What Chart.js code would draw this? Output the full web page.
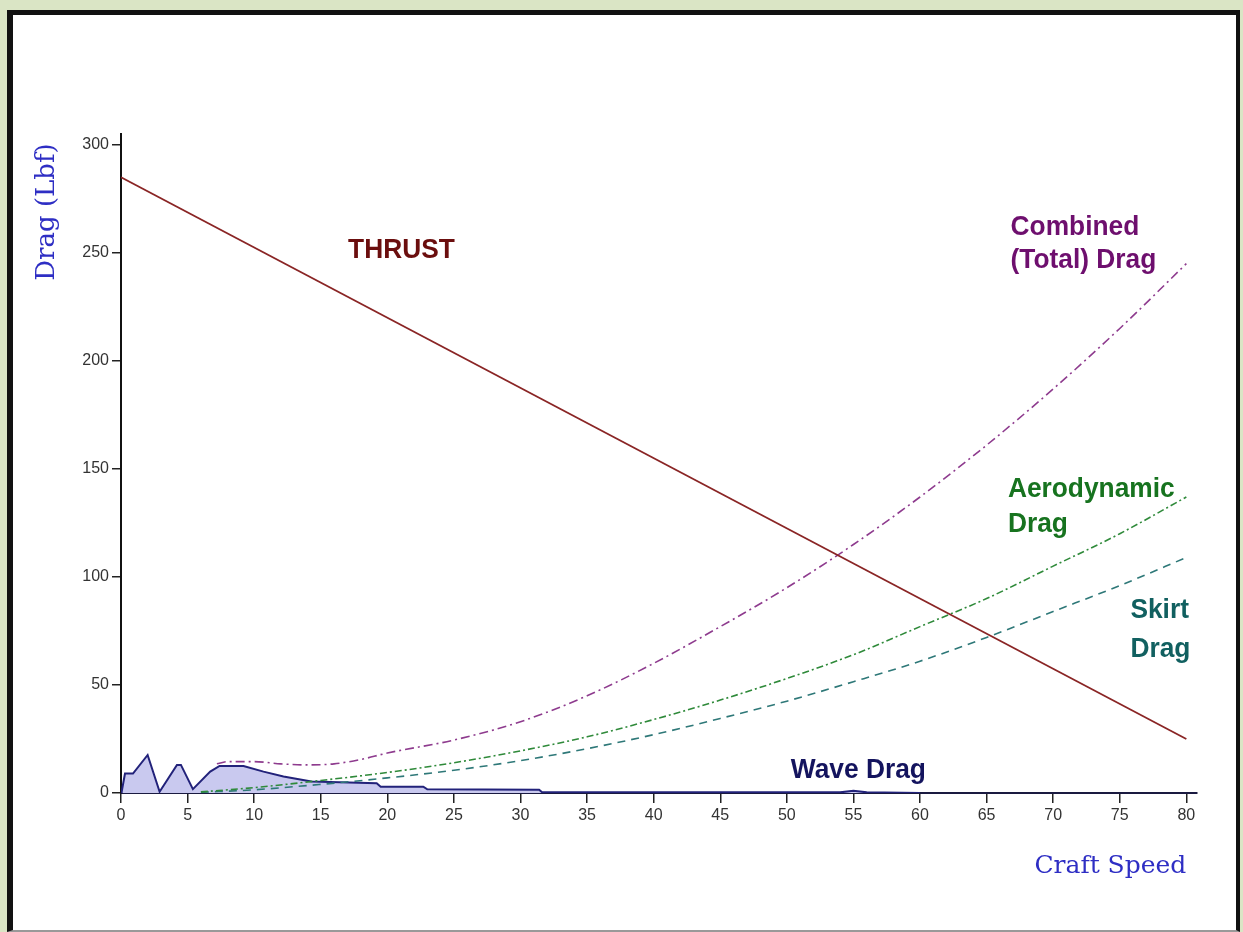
<!DOCTYPE html>
<html>
<head>
<meta charset="utf-8">
<script src="https://cdn.jsdelivr.net/npm/chart.js@4"></script>
<style>
  html, body { margin: 0; padding: 0; background: #dae5c5; overflow: hidden; }
  #frame {
    position: absolute; left: 7px; top: 10px; width: 1223px; height: 915px;
    background: #fff; border-left: 6px solid #111; border-top: 5px solid #111;
    border-right: 4px solid #111; border-bottom: 2px solid #999;
  }
  #chart { position: absolute; left: 0; top: 0; }
</style>
</head>
<body>
<div id="frame"></div>
<canvas id="chart" width="1243" height="932"></canvas>
<script>
// values (speed in knots-ish units, drag in lbf)
var thrustSpeed = [0, 80];
var thrust = [285, 25];

var combinedSpeed = [7.2, 8, 10, 12, 14, 16, 18, 20, 25, 30, 35, 40, 45, 50, 55, 60, 65, 70, 75, 80];
var combinedDrag = [13.5, 14.5, 14.5, 13.5, 13, 13.5, 15.5, 18.5, 24.5, 33, 45, 60, 77, 95, 115, 137, 161, 187, 215, 245];

var aeroSpeed = [6, 10, 15, 20, 25, 30, 35, 40, 45, 50, 55, 60, 65, 70, 75, 80];
var aeroDrag = [0.5, 2.5, 5.8, 9.5, 14, 19.5, 26, 34, 43, 53, 64, 77, 90, 105, 120, 137];

var skirtSpeed = [6, 10, 15, 20, 25, 30, 35, 40, 45, 50, 55, 60, 65, 70, 75, 80];
var skirtDrag = [0.3, 1.5, 4, 7, 10.5, 15, 20.5, 27, 34.5, 42.5, 51.5, 61, 72, 84, 96, 109];

var waveSpeed = [0, 0.05, 0.3, 0.9, 2.0, 2.9, 4.2, 4.5, 5.4, 6.7, 7.4, 9.2, 10.7, 12.2, 14.3, 19.2, 19.5, 22.7, 23.0, 31.4, 31.6, 54, 55, 56, 60];
var waveDrag = [0, 0.6, 9, 9, 17.6, 0.6, 13, 13, 1.8, 9.9, 12.5, 12.5, 9.9, 7.6, 5.3, 4.5, 2.9, 2.9, 1.7, 1.5, 0.5, 0.3, 1, 0.3, 0];

var xTicks = [0, 5, 10, 15, 20, 25, 30, 35, 40, 45, 50, 55, 60, 65, 70, 75, 80];
var yTicks = [0, 50, 100, 150, 200, 250, 300];

function pts(xs, ys) {
    return xs.map(function (x, i) { return { x: x, y: ys[i] }; });
}

// curve labels: text, speed, drag (baseline), colour
var notes = [
    ['THRUST', 17.05, 247.7, '#6b0e0e'],
    ['Combined', 66.8, 258.3, '#6e0f6e'],
    ['(Total) Drag', 66.8, 243, '#6e0f6e'],
    ['Aerodynamic', 66.6, 137, '#17731f'],
    ['Drag', 66.6, 120.8, '#17731f'],
    ['Skirt', 75.8, 81, '#116060'],
    ['Drag', 75.8, 63, '#116060'],
    ['Wave Drag', 50.3, 6.9, '#14145e']
];

var textPlugin = {
    id: 'texts',
    afterDraw: function (chart) {
        var ctx = chart.ctx;
        var xs = chart.scales.x, ys = chart.scales.y;
        ctx.save();
        ctx.font = 'bold 28px "Liberation Sans", Arial, sans-serif';
        ctx.textBaseline = 'alphabetic';
        ctx.textAlign = 'left';
        notes.forEach(function (n) {
            var px = xs.getPixelForValue(n[1]);
            var py = ys.getPixelForValue(n[2]);
            ctx.save();
            ctx.translate(px, py);
            ctx.scale(0.94, 1);
            ctx.fillStyle = n[3];
            ctx.fillText(n[0], 0, 0);
            ctx.restore();
        });
        // axis titles
        ctx.fillStyle = '#2e2ec4';
        ctx.font = '25px "DejaVu Serif", serif';
        ctx.textAlign = 'right';
        ctx.fillText('Craft Speed', xs.getPixelForValue(80), 873);
        ctx.save();
        ctx.translate(54, 212);
        ctx.rotate(-Math.PI / 2);
        ctx.textAlign = 'center';
        ctx.font = '26px "DejaVu Serif", serif';
        ctx.fillText('Drag (Lbf)', 0, 0);
        ctx.restore();
        ctx.restore();
    }
};

window.addEventListener('load', function () {
    var ctx = document.getElementById('chart').getContext('2d');
    new Chart(ctx, {
        type: 'line',
        data: {
            datasets: [
                {
                    label: 'Thrust',
                    data: pts(thrustSpeed, thrust),
                    borderColor: '#8a2525',
                    borderWidth: 1.8,
                    pointRadius: 0,
                    fill: false
                },
                {
                    label: 'Combined (Total) Drag',
                    data: pts(combinedSpeed, combinedDrag),
                    borderColor: '#8e3b8e',
                    borderWidth: 1.6,
                    borderDash: [9, 4, 2, 4],
                    pointRadius: 0,
                    cubicInterpolationMode: 'monotone',
                    fill: false
                },
                {
                    label: 'Aerodynamic Drag',
                    data: pts(aeroSpeed, aeroDrag),
                    borderColor: '#2f8a3a',
                    borderWidth: 1.6,
                    borderDash: [7, 3, 2, 3],
                    pointRadius: 0,
                    cubicInterpolationMode: 'monotone',
                    fill: false
                },
                {
                    label: 'Skirt Drag',
                    data: pts(skirtSpeed, skirtDrag),
                    borderColor: '#2e7878',
                    borderWidth: 1.6,
                    borderDash: [8, 6],
                    pointRadius: 0,
                    cubicInterpolationMode: 'monotone',
                    fill: false
                },
                {
                    label: 'Wave Drag',
                    data: pts(waveSpeed, waveDrag),
                    borderColor: '#22227a',
                    backgroundColor: '#c9c9ef',
                    borderWidth: 2,
                    pointRadius: 0,
                    tension: 0,
                    fill: 'origin'
                }
            ]
        },
        options: {
            responsive: false,
            animation: false,
            devicePixelRatio: 1,
            layout: {
                padding: { left: 61, right: 46, top: 134, bottom: 99 }
            },
            plugins: {
                legend: { display: false },
                tooltip: { enabled: false }
            },
            scales: {
                x: {
                    type: 'linear',
                    min: 0,
                    max: 80.8,
                    afterFit: function (s) { s.height = 40; },
                    afterBuildTicks: function (s) {
                        s.ticks = xTicks.map(function (v) { return { value: v }; });
                    },
                    grid: {
                        drawOnChartArea: false,
                        drawTicks: true,
                        tickLength: 10,
                        color: '#222',
                        lineWidth: 1.5
                    },
                    border: { display: true, color: '#1a1a40', width: 2 },
                    ticks: {
                        color: '#333',
                        padding: 3,
                        maxRotation: 0,
                        autoSkip: false,
                        font: { family: '"Liberation Sans", Arial, sans-serif', size: 16 }
                    }
                },
                y: {
                    type: 'linear',
                    min: 0,
                    max: 305,
                    afterFit: function (s) { s.width = 60; },
                    afterBuildTicks: function (s) {
                        s.ticks = yTicks.map(function (v) { return { value: v }; });
                    },
                    grid: {
                        drawOnChartArea: false,
                        drawTicks: true,
                        tickLength: 9,
                        color: '#222',
                        lineWidth: 1.5
                    },
                    border: { display: true, color: '#111', width: 2 },
                    ticks: {
                        color: '#333',
                        padding: 3,
                        autoSkip: false,
                        font: { family: '"Liberation Sans", Arial, sans-serif', size: 16 }
                    }
                }
            }
        },
        plugins: [textPlugin]
    });
});
</script>
</body>
</html>
